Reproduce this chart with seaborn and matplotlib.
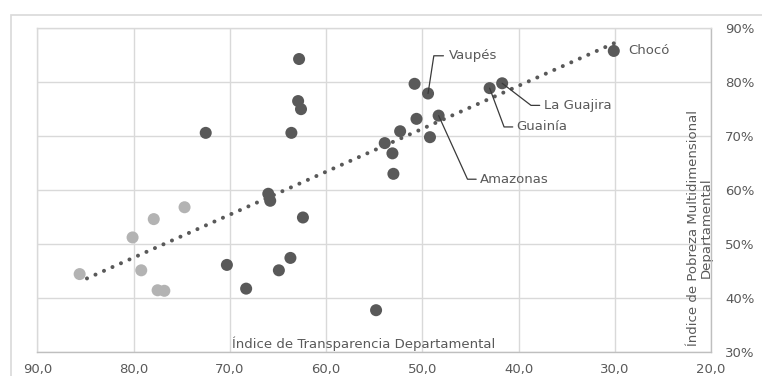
import numpy as np
import pandas as pd
import seaborn as sns
import matplotlib.pyplot as plt
from matplotlib.patches import Rectangle
from matplotlib.ticker import FuncFormatter, MultipleLocator

# Índice de Transparencia (x) vs Índice de Pobreza Multidimensional (y, %)
transp_claro = [85.6, 80.1, 77.9, 74.7, 79.2, 77.5, 76.8]
pobreza_claro = [44.4, 51.2, 54.6, 56.8, 45.1, 41.4, 41.3]

transp_oscuro = [62.8, 62.9, 62.6, 72.5, 63.6, 66.0, 65.8, 62.4, 70.3, 63.7, 64.9, 68.3,
                 54.8, 50.8, 49.4, 50.6, 48.3, 52.3, 49.2, 53.9, 53.1, 53.0, 43.0, 41.7, 30.1]
pobreza_oscuro = [84.3, 76.5, 75.0, 70.6, 70.6, 59.3, 58.0, 54.9, 46.1, 47.4, 45.1, 41.7,
                  37.7, 79.7, 77.9, 73.2, 73.8, 70.9, 69.8, 68.7, 66.8, 63.0, 78.9, 79.8, 85.8]

etiquetas = ["Vaupés", "Amazonas", "Guainía", "La Guajira", "Chocó"]
etiqueta_x = [49.4, 48.3, 43.0, 41.7, 30.1]
etiqueta_y = [77.9, 73.8, 78.9, 79.8, 85.8]

df = pd.DataFrame({
    "transparencia": transp_claro + transp_oscuro,
    "pobreza": pobreza_claro + pobreza_oscuro,
    "grupo": ["claro"] * len(transp_claro) + ["oscuro"] * len(transp_oscuro),
})

sns.set_style("white")
plt.rcParams["font.family"] = ["DejaVu Sans"]
gris = "#595959"

fig = plt.figure(figsize=(7.62, 3.76), dpi=100)
fig.patches.append(Rectangle((11 / 762, -0.1), 1.1, (376 - 14.7) / 376 + 0.1,
                             transform=fig.transFigure, fill=False,
                             edgecolor="#d9d9d9", linewidth=1.2))
ax = fig.add_axes([37.3 / 762, 1 - 351.7 / 376, 673.7 / 762, 323.4 / 376])

sns.regplot(data=df, x="transparencia", y="pobreza", scatter=False, ci=None, ax=ax,
            line_kws=dict(color=gris, linewidth=2.9, linestyle=(0, (0.01, 2.3)),
                          dash_capstyle="round", zorder=2))
sns.scatterplot(data=df, x="transparencia", y="pobreza", hue="grupo",
                palette={"claro": "#b3b3b3", "oscuro": "#595959"},
                s=75, linewidth=0, legend=False, ax=ax, zorder=3)

# leader lines and labels
pos_texto = {
    "Vaupés": (48.8, 84.9, 47.8, 47.2),
    "Amazonas": (45.3, 62.0, 44.4, 44.0),
    "Guainía": (41.5, 71.7, 40.6, 40.2),
    "La Guajira": (38.7, 75.7, 37.8, 37.4),
}
for nombre, px, py in zip(etiquetas, etiqueta_x, etiqueta_y):
    if nombre in pos_texto:
        ex, ey, hx, tx = pos_texto[nombre]
        ax.plot([px, ex, hx], [py, ey, ey], color="#3a3a3a", linewidth=0.9, zorder=4)
        ax.text(tx, ey, nombre, color=gris, fontsize=9.5, va="center", ha="left")
    else:
        ax.text(28.6, py, nombre, color=gris, fontsize=9.5, va="center", ha="left")

ax.set_xlim(90, 20)
ax.set_ylim(30, 90)
ax.xaxis.set_major_locator(MultipleLocator(10))
ax.yaxis.set_major_locator(MultipleLocator(10))
ax.xaxis.set_major_formatter(FuncFormatter(lambda v, p: f"{v:.1f}".replace(".", ",")))
ax.yaxis.set_major_formatter(FuncFormatter(lambda v, p: f"{v:.0f}%"))
ax.yaxis.tick_right()
ax.grid(True, color="#d9d9d9", linewidth=1)
ax.set_axisbelow(True)
for s in ax.spines.values():
    s.set_color("#d9d9d9")
    s.set_linewidth(1)
ax.spines["bottom"].set_color("#bfbfbf")
ax.spines["right"].set_color("#bfbfbf")
ax.tick_params(axis="both", length=0, colors=gris, labelsize=9.5)
ax.tick_params(axis="x", pad=8)
ax.tick_params(axis="y", pad=10)

ax.set_xlabel("Índice de Transparencia Departamental", fontsize=9.5, color=gris)
ax.xaxis.set_label_coords(0.4845, 0.003)
ax.xaxis.label.set_va("bottom")
ax.set_ylabel("Índice de Pobreza Multidimensional\nDepartamental", fontsize=9.5,
              color=gris, linespacing=1.0)
ax.yaxis.set_label_position("right")
ax.yaxis.set_label_coords(0.984, 0.382)
ax.yaxis.label.set_va("center")
ax.yaxis.label.set_ha("center")
ax.yaxis.label.set_rotation(90)

fig.savefig("out.png", dpi=100)
